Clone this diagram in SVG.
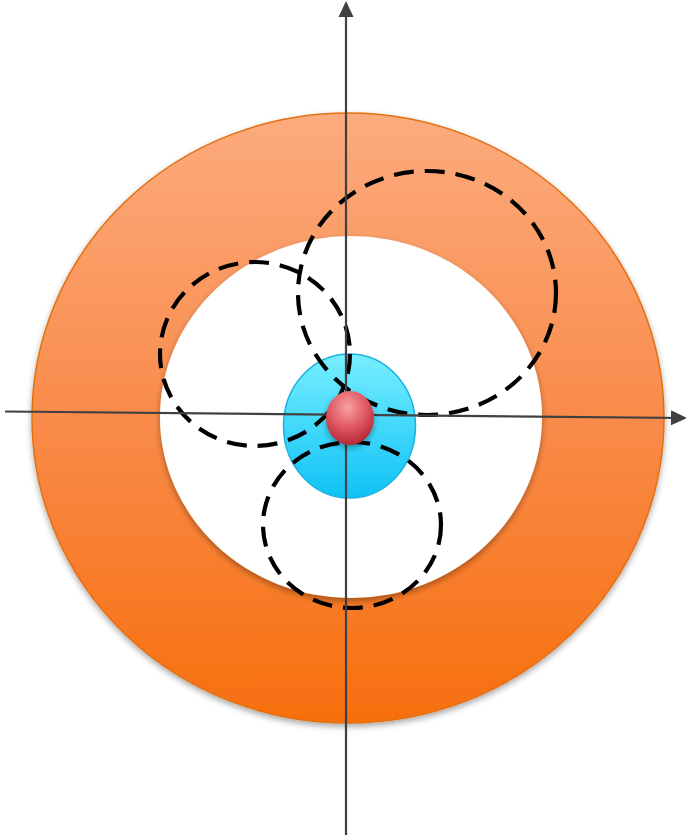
<svg xmlns="http://www.w3.org/2000/svg" width="686" height="839" viewBox="0 0 686 839">
<defs>
<linearGradient id="gOrange" x1="0" y1="0" x2="0" y2="1">
<stop offset="0" stop-color="#FCAB7E"/>
<stop offset="0.5" stop-color="#F98B4A"/>
<stop offset="1" stop-color="#F76F0E"/>
</linearGradient>
<linearGradient id="gBlue" x1="0" y1="0" x2="0" y2="1">
<stop offset="0" stop-color="#78EEFF"/>
<stop offset="1" stop-color="#0EC2F6"/>
</linearGradient>
<radialGradient id="gRed" cx="0.45" cy="0.3" r="0.75">
<stop offset="0" stop-color="#F7A2A2"/>
<stop offset="0.5" stop-color="#E05A64"/>
<stop offset="1" stop-color="#B01F2C"/>
</radialGradient>
<filter id="sh" x="-10%" y="-10%" width="120%" height="125%">
<feGaussianBlur in="SourceAlpha" stdDeviation="3"/>
<feOffset dy="3"/>
<feComponentTransfer><feFuncA type="linear" slope="0.35"/></feComponentTransfer>
<feMerge><feMergeNode/><feMergeNode in="SourceGraphic"/></feMerge>
</filter>
<marker id="arr" markerWidth="16" markerHeight="16" refX="14" refY="7.5" orient="auto" markerUnits="userSpaceOnUse" viewBox="0 0 16 15">
<path d="M0,0 L16,7.5 L0,15 z" fill="#404040"/>
</marker>
</defs>
<style>
.dash{fill:none;stroke:#000;stroke-width:4.2;stroke-dasharray:20 11;}
.axis{stroke:#404040;stroke-width:2.2;fill:none;}
</style>
<g id="outer-ring">
<ellipse cx="348" cy="418" rx="316" ry="305" fill="url(#gOrange)" stroke="#E3700F" stroke-width="1.5" filter="url(#sh)"/>
</g>
<g id="inner-disc">
<ellipse cx="351" cy="417" rx="191" ry="181" fill="#FFFFFF" filter="url(#sh)"/>
</g>
<g id="nucleus-cloud">
<ellipse cx="349.5" cy="426" rx="66" ry="72" fill="url(#gBlue)" stroke="#19B2E2" stroke-width="1.5"/>
</g>
<g id="loops">
<ellipse class="dash" cx="427" cy="293" rx="129" ry="122"/>
<ellipse class="dash" cx="255" cy="354" rx="95" ry="92"/>
<ellipse class="dash" cx="352" cy="525" rx="89" ry="83"/>
</g>
<g id="axes">
<line class="axis" x1="346" y1="835" x2="346" y2="3" marker-end="url(#arr)"/>
<line class="axis" x1="5" y1="411.5" x2="685" y2="418" marker-end="url(#arr)"/>
</g>
<g id="nucleus">
<ellipse cx="350" cy="418" rx="24" ry="27" fill="url(#gRed)" filter="url(#sh)"/>
</g>
</svg>
